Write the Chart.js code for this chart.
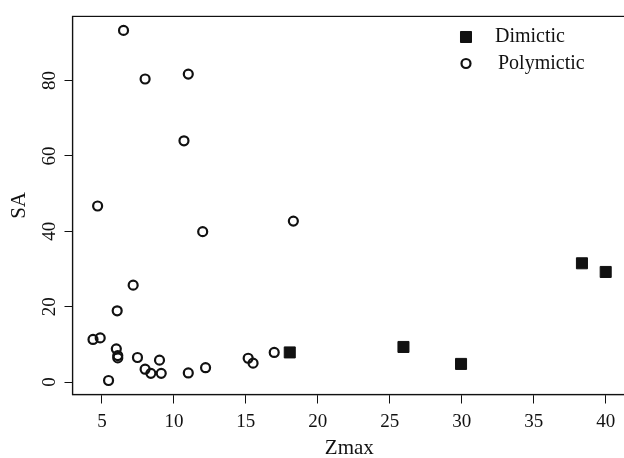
<!DOCTYPE html>
<html>
<head>
<meta charset="utf-8">
<script src="https://cdn.jsdelivr.net/npm/chart.js@4/dist/chart.umd.min.js"></script>
<style>
  html, body { margin: 0; padding: 0; background: #fff; overflow: hidden; }
  canvas { display: block; }
</style>
</head>
<body>
<canvas id="c" width="640" height="458"></canvas>
<script>
// Zmax / SA pairs per lake type
const dimicticZmax = [18.05, 25.95, 29.95, 38.35, 40.0];
const dimicticSA   = [7.85, 9.3, 4.8, 31.5, 29.2];

const polymicticZmax = [6.5, 8.0, 11.0, 10.7, 4.7, 18.3, 12.0, 7.17, 6.06, 4.38, 4.88, 6.0, 6.1, 6.1,
                        7.47, 8.0, 8.4, 9.0, 9.12, 5.46, 11.0, 12.2, 15.16, 15.5, 16.97];
const polymicticSA   = [93.3, 80.4, 81.7, 64.0, 46.7, 42.7, 39.9, 25.7, 18.9, 11.3, 11.7, 8.8, 7.0, 6.4,
                        6.5, 3.4, 2.3, 5.8, 2.3, 0.4, 2.4, 3.8, 6.3, 5.0, 7.85];

const xTicks = [5, 10, 15, 20, 25, 30, 35, 40];
const yTicks = [0, 20, 40, 60, 80];

const seriesNames = ['Dimictic', 'Polymictic'];
const xTitle = 'Zmax';
const yTitle = 'SA';

const serif = '"Liberation Serif", "DejaVu Serif", serif';
const ink = '#111';

const toPoints = (xs, ys) => xs.map((x, i) => ({ x, y: ys[i] }));

// R-style 4% padding around the data range
function paddedRange(values) {
  const lo = Math.min(...values), hi = Math.max(...values);
  const pad = (hi - lo) * 0.04;
  return [lo - pad, hi + pad];
}
const [xMin, xMax] = paddedRange(dimicticZmax.concat(polymicticZmax));
const [yMin, yMax] = paddedRange(dimicticSA.concat(polymicticSA));

// Full box around the plotting region
const boxPlugin = {
  id: 'box',
  afterDraw(chart) {
    const { ctx, chartArea: a } = chart;
    ctx.save();
    ctx.strokeStyle = ink;
    ctx.lineWidth = 1.2;
    ctx.strokeRect(a.left, a.top, a.right - a.left, a.bottom - a.top);
    ctx.restore();
  }
};

// Borderless legend in the upper right of the plot
const legendPlugin = {
  id: 'insetLegend',
  afterDraw(chart) {
    const { ctx } = chart;
    const x0 = 466, y0 = 37, rowGap = 26.5, textX = 495;
    ctx.save();
    chart.data.datasets.forEach((ds, i) => {
      const y = y0 + i * rowGap;
      ctx.fillStyle = ds.backgroundColor;
      ctx.strokeStyle = ds.borderColor;
      ctx.lineWidth = ds.borderWidth;
      Chart.helpers.drawPoint(ctx, {
        pointStyle: ds.pointStyle,
        radius: ds.pointRadius,
        borderWidth: ds.borderWidth,
        rotation: 0
      }, x0, y);
      ctx.fillStyle = ink;
      ctx.font = '20px ' + serif;
      ctx.textBaseline = 'middle';
      ctx.textAlign = 'left';
      ctx.fillText(ds.label, textX + (i === 1 ? 3 : 0), y);
    });
    ctx.restore();
  }
};

new Chart(document.getElementById('c'), {
  type: 'scatter',
  data: {
    datasets: [
      {
        label: seriesNames[0],
        data: toPoints(dimicticZmax, dimicticSA),
        pointStyle: 'rect',
        pointRadius: 7.8,
        pointHoverRadius: 7.8,
        backgroundColor: ink,
        borderColor: ink,
        borderWidth: 1
      },
      {
        label: seriesNames[1],
        data: toPoints(polymicticZmax, polymicticSA),
        pointStyle: 'circle',
        pointRadius: 4.5,
        pointHoverRadius: 4.5,
        backgroundColor: 'rgba(0,0,0,0)',
        borderColor: ink,
        borderWidth: 2.2
      }
    ]
  },
  options: {
    responsive: false,
    animation: false,
    events: [],
    layout: { padding: { left: 0, top: 11.5, right: 640 - 626.2, bottom: 0 } },
    plugins: { legend: { display: false }, tooltip: { enabled: false } },
    scales: {
      x: {
        type: 'linear',
        min: xMin,
        max: xMax,
        afterBuildTicks: s => { s.ticks = xTicks.map(v => ({ value: v })); },
        afterFit: s => { s.height = 63.5; },
        ticks: {
          color: ink,
          font: { family: serif, size: 19 },
          padding: 7,
          maxRotation: 0,
          minRotation: 0
        },
        grid: { drawOnChartArea: false, drawTicks: true, tickLength: 9, tickColor: ink, tickWidth: 1 },
        border: { display: true, color: ink, width: 1.2 },
        title: { display: true, text: xTitle, color: ink, font: { family: serif, size: 21 }, padding: { top: 0, bottom: -3 } }
      },
      y: {
        type: 'linear',
        min: yMin,
        max: yMax,
        afterBuildTicks: s => { s.ticks = yTicks.map(v => ({ value: v })); },
        afterFit: s => { s.width = 72.5; },
        ticks: {
          color: ink,
          font: { family: serif, size: 19 },
          padding: 5,
          minRotation: 90,
          maxRotation: 90,
          crossAlign: 'center'
        },
        grid: { drawOnChartArea: false, drawTicks: true, tickLength: 8, tickColor: ink, tickWidth: 1 },
        border: { display: true, color: ink, width: 1.2 },
        title: { display: true, text: yTitle, color: ink, font: { family: serif, size: 21 }, padding: { top: 7, bottom: 0 } }
      }
    }
  },
  plugins: [boxPlugin, legendPlugin]
});
</script>
</body>
</html>
